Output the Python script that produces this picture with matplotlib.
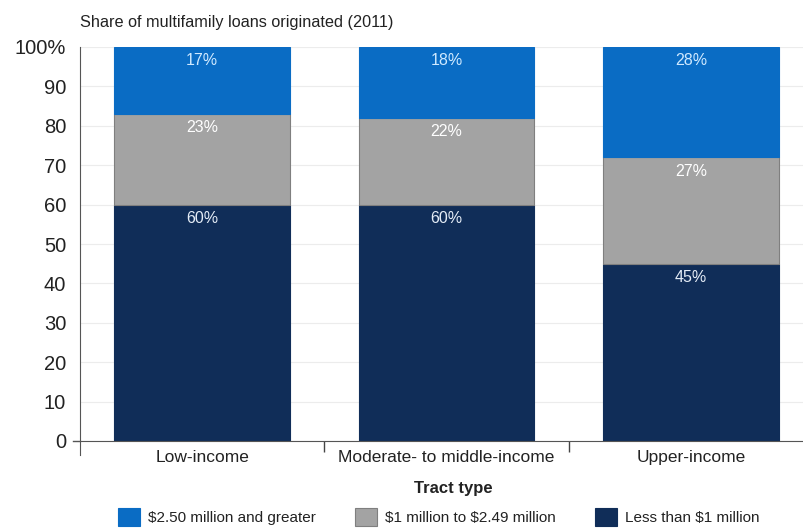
import matplotlib
matplotlib.use("Agg")
import matplotlib.pyplot as plt
import numpy as np

plt.rcParams['font.family'] = ['Liberation Sans', 'DejaVu Sans']

categories = ["Low-income", "Moderate- to middle-income", "Upper-income"]
series_names = ["Less than \\$1 million", "\\$1 million to \\$2.49 million",
                "\\$2.50 million and greater"]
less_than_1m = [60, 60, 45]
from_1m_to_249m = [23, 22, 27]
over_250m = [17, 18, 28]
y_ticks = [0, 10, 20, 30, 40, 50, 60, 70, 80, 90, 100]
y_tick_labels = ["0", "10", "20", "30", "40", "50", "60", "70", "80", "90", "100%"]

colors = ["#102d58", "#a3a3a3", "#0a6cc4"]
edge_colors = ["#102d58", "#7f7f7f", "#0a6cc4"]
label_colors = ["#e4ecf6", "#ffffff", "#cfe9ff"]

fig = plt.figure(figsize=(8.04, 5.29), dpi=100)
ax = fig.add_axes([80 / 804, 1 - 441 / 529, 1 - 80 / 804, (441 - 47) / 529])

x = np.arange(len(categories))
bottom = np.zeros(len(categories))
handles = []
for vals, name, c, ec, lc in zip([less_than_1m, from_1m_to_249m, over_250m],
                                 series_names, colors, edge_colors, label_colors):
    vals = np.array(vals, dtype=float)
    bars = ax.bar(x, vals, width=0.72, bottom=bottom, color=c, edgecolor=ec,
                  linewidth=0.8, label=name, zorder=2)
    handles.append(bars)
    for xi, b, v in zip(x, bottom, vals):
        ax.annotate(f"{v:.0f}%", (xi, b + v), xytext=(0, -10), textcoords="offset points",
                    ha="center", va="center", color=lc, fontsize=11.5, zorder=3)
    bottom += vals

ax.set_ylim(0, 100)
ax.set_xlim(-0.5, 2.463)
ax.set_yticks(y_ticks)
ax.set_yticklabels(y_tick_labels, fontsize=14.5, color="#222222")
ax.tick_params(axis="y", length=0, pad=10)
ax.yaxis.grid(True, color="#ececec", linewidth=0.8, zorder=0)
ax.set_axisbelow(True)

# category separators drawn as downward ticks on the x axis
ax.set_xticks([0.5, 1.5])
ax.set_xticklabels([])
ax.tick_params(axis="x", direction="out", length=8, color="#444444", width=1)
for xi, cat in zip(x, categories):
    ax.annotate(cat, (xi, 0), xytext=(0, -12), textcoords="offset points",
                ha="center", va="center", fontsize=12.5, color="#222222",
                annotation_clip=False)

for s in ["top", "right"]:
    ax.spines[s].set_visible(False)
ax.spines["left"].set_color("#555555")
ax.spines["bottom"].set_color("#555555")
ax.spines["left"].set_bounds(-3.5, 100)
ax.plot([-0.5, -0.53], [0, 0], color="#555555", lw=1, clip_on=False)

fig.text(80 / 804, 1 - 22 / 529, "Share of multifamily loans originated (2011)",
         fontsize=11.7, color="#222222", ha="left", va="center")
fig.text(453 / 804, 1 - 488 / 529, "Tract type", fontsize=12, fontweight="bold",
         color="#222222", ha="center", va="center")

leg = fig.legend([handles[2], handles[1], handles[0]],
                 [series_names[2], series_names[1], series_names[0]],
                 loc="center", bbox_to_anchor=(439 / 804, 1 - 517 / 529), ncol=3,
                 frameon=False, fontsize=11, handlelength=1.45, handleheight=1.4,
                 columnspacing=2.55, handletextpad=0.52)
for t in leg.get_texts():
    t.set_color("#222222")

fig.savefig("out.png", dpi=100)
